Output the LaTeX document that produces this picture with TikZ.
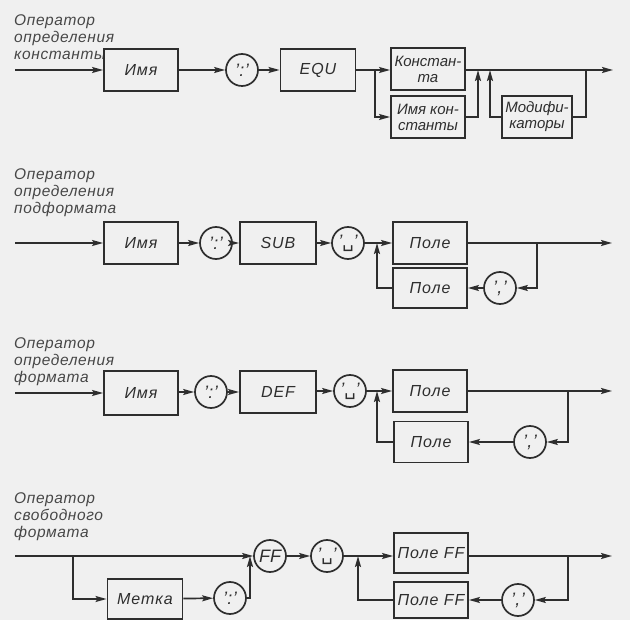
\documentclass[tikz,border=0pt]{standalone}
\usepackage{fontspec}
\setmainfont{Liberation Sans}
\newfontfamily\dejavu{DejaVu Sans}
\usetikzlibrary{arrows.meta}
\tikzset{
  ln/.style={draw=black!82, line width=1.7pt},
  arr/.style={ln, -{Stealth[length=11pt,width=6pt,inset=2pt]}},
  box/.style={draw=black!82, line width=1.9pt, minimum width=74pt, minimum height=42pt, inner sep=0pt, align=center,
    font=\fontsize{16}{16}\selectfont\itshape\addfontfeature{LetterSpace=6}, text=black!82},
  box2/.style={box, font=\fontsize{15}{16}\selectfont\itshape},
  circ/.style={circle, draw=black!82, line width=1.7pt, minimum size=32pt, inner sep=0pt,
    font=\fontsize{18}{18}\selectfont\itshape, text=black!82},
  lab/.style={anchor=north west, align=left, inner sep=0pt,
    font=\fontsize{15.5}{17}\selectfont\itshape\addfontfeature{LetterSpace=4}, text=black!72},
}
\newcommand{\qcolon}{'\kern0.5pt:\kern0.5pt'}
\newcommand{\qcomma}{'\kern0.5pt,\kern0.5pt'}
\newcommand{\qspace}{'{\dejavu\upshape\fontsize{18}{18}\selectfont ␣}'}
\begin{document}
\begin{tikzpicture}[x=1pt,y=-1pt]
\useasboundingbox (0,0) rectangle (630,620);
\fill[black!6] (0,0) rectangle (630,620);

% ---------- Diagram 1 ----------
\node[lab] (l1) at (14,14) {Оператор\\определения\\константы};
\coordinate (in1) at (15,70);
\node[box] (imya1) at (141,70) {Имя};
\node[circ] (c1) at (242,70) {\qcolon};
\node[box,minimum width=75pt] (equ) at (318,70) {EQU};
\node[box2] (konst) at (428,69) {Констан-\\та};
\node[box2] (imk) at (428,117) {Имя кон-\\станты};
\node[box2,minimum width=70pt] (mod) at (537,117) {Модифи-\\каторы};
\coordinate (s1) at (375,70);
\coordinate (m1) at (478,70);
\coordinate (m2) at (490,70);
\coordinate (m3) at (586,70);
\coordinate (o1) at (613,70);
\draw[arr] (in1) -- (imya1);
\draw[arr] (imya1) -- (c1);
\draw[arr] (c1) -- (equ);
\draw[ln] (equ) -- (s1);
\draw[arr] (s1) -- (s1 -| konst.west);
\draw[arr] (s1) |- (imk);
\draw[arr] (konst.east |- o1) -- (o1);
\draw[arr] (imk) -| (m1);
\draw[ln] (m3) |- (mod);
\draw[arr] (mod) -| (m2);

% ---------- Diagram 2 ----------
\node[lab] (l2) at (14,168) {Оператор\\определения\\подформата};
\coordinate (in2) at (15,243);
\node[box] (imya2) at (141,243) {Имя};
\node[circ] (c2) at (216,243) {\qcolon};
\node[box,minimum width=76pt] (sub) at (278,243) {SUB};
\node[circ] (c3) at (348,243) {\qspace};
\node[box] (pole1) at (430,243) {Поле};
\node[box,minimum height=40pt] (pole2) at (430,288) {Поле};
\node[circ] (c4) at (500,288) {\qcomma};
\coordinate (s2) at (377,243);
\coordinate (r2) at (537,243);
\coordinate (o2) at (612,243);
\draw[arr] (in2) -- (imya2);
\draw[arr] (imya2) -- (c2);
\draw[arr] (c2) -- (sub);
\draw[arr] (sub) -- (c3);
\draw[arr] (c3) -- (pole1);
\draw[arr] (pole1) -- (o2);
\draw[arr] (r2) |- (c4);
\draw[arr] (c4) -- (pole2);
\draw[arr] (pole2) -| (s2);

% ---------- Diagram 3 ----------
\node[lab] (l3) at (14,337) {Оператор\\определения\\формата};
\coordinate (in3) at (15,393);
\node[box,minimum height=44pt] (imya3) at (141,393) {Имя};
\node[circ] (c5) at (211,392) {\qcolon};
\node[box,minimum width=76pt] (def) at (278,392) {DEF};
\node[circ] (c6) at (350,391) {\qspace};
\node[box] (pole3) at (430,391) {Поле};
\node[box,minimum height=41pt] (pole4) at (431,442) {Поле};
\node[circ] (c7) at (530,442) {\qcomma};
\coordinate (s3) at (377,391);
\coordinate (r3) at (568,391);
\coordinate (o3) at (612,391);
\draw[arr] (in3) -- (imya3);
\draw[arr] (imya3.east |- c5) -- (c5);
\draw[arr] (c5) -- (def);
\draw[arr] (def.east |- c6) -- (c6);
\draw[arr] (c6) -- (pole3);
\draw[arr] (pole3) -- (o3);
\draw[arr] (r3) |- (c7);
\draw[arr] (c7) -- (pole4);
\draw[arr] (pole4) -| (s3);

% ---------- Diagram 4 ----------
\node[lab] (l4) at (14,492) {Оператор\\свободного\\формата};
\coordinate (in4) at (15,556);
\coordinate (s4) at (73,556);
\node[box,minimum width=75pt,minimum height=40pt] (metka) at (145,599) {Метка};
\node[circ] (c8) at (230,598) {\qcolon};
\coordinate (m4) at (250,556);
\node[circ] (ff) at (270,556) {FF};
\node[circ] (c9) at (327,556) {\qspace};
\node[box,minimum height=40pt] (pff1) at (431,553) {Поле FF};
\node[box,minimum height=36pt] (pff2) at (431,600) {Поле FF};
\node[circ] (c10) at (518,600) {\qcomma};
\coordinate (s5) at (358,556);
\coordinate (r4) at (568,556);
\coordinate (o4) at (612,556);
\draw[arr] (in4) -- (ff);
\draw[arr] (s4) |- (metka);
\draw[arr] (metka) -- (c8);
\draw[arr] (c8) -| (m4);
\draw[arr] (ff) -- (c9);
\draw[arr] (c9) -- (s5 -| pff1.west);
\draw[arr] (pff1.east |- o4) -- (o4);
\draw[arr] (r4) |- (c10);
\draw[arr] (c10) -- (pff2);
\draw[arr] (pff2) -| (s5);
\end{tikzpicture}
\end{document}
